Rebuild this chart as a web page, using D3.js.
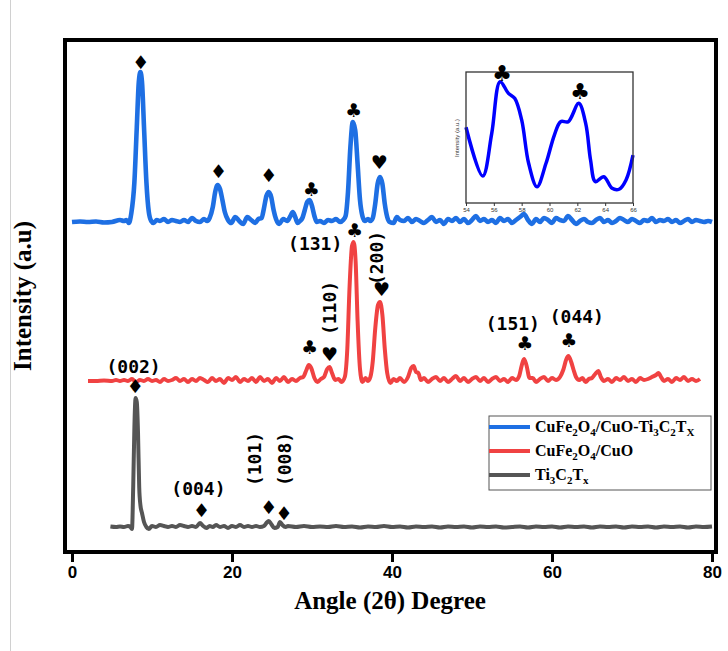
<!DOCTYPE html>
<html><head><meta charset="utf-8">
<script src="https://cdn.jsdelivr.net/npm/d3@7"></script>
<style>
html,body{margin:0;padding:0;background:#fff;}
svg{display:block;}
</style></head>
<body><svg id="chart" width="728" height="651"></svg>
<script>
// ---------------- DATA ----------------
const seriesNames = ["CuFe2O4/CuO-Ti3C2Tx", "CuFe2O4/CuO", "Ti3C2Tx"];
const seriesColors = ["#1e6fe3", "#f04242", "#555555"];
const seriesWidths = [4.6, 4, 4];
const seriesOffset = [330, 171, 25]; // vertical stacking offset (a.u.)
const xTicks = [0, 20, 40, 60, 80];

const blueData = [[0,0],[1,0.5],[2,0],[3,0.5],[4,-0.5],[5,0],[6,2],[6.5,1],[6.8,2],[7.1,-1],[7.4,8],[7.8,40],[8.1,95],[8.35,140],[8.55,150],[8.75,140],[9.0,95],[9.3,40],[9.6,10],[9.9,1],[10.2,-1],[10.6,2],[11,1],[11.5,3],[12,0],[12.5,2],[13,1],[13.5,0],[14,2],[14.5,0],[15,4],[15.5,1],[16,0],[16.5,3],[16.9,1],[17.2,4],[17.6,15],[17.9,30],[18.2,37],[18.5,33],[18.8,22],[19.1,10],[19.5,2],[19.9,-1],[20.4,5],[20.9,1],[21.4,-2],[21.9,5],[22.4,2],[22.9,-1],[23.3,3],[23.7,4],[24.0,14],[24.3,26],[24.6,30],[24.9,25],[25.2,12],[25.5,3],[25.9,-2],[26.4,3],[26.9,1],[27.3,6],[27.6,10],[27.9,5],[28.2,-1],[28.5,1],[28.8,4],[29.1,12],[29.4,20],[29.7,22],[30.0,16],[30.3,6],[30.6,0],[31,1],[31.5,-1],[32,2],[32.5,1],[33,3],[33.5,0],[33.9,2],[34.2,6],[34.5,30],[34.8,75],[35.1,100],[35.4,92],[35.7,58],[36.0,22],[36.3,6],[36.6,1],[37.0,3],[37.3,1],[37.6,4],[37.9,18],[38.2,38],[38.5,45],[38.8,38],[39.1,18],[39.4,5],[39.7,0],[40.2,-1],[40.6,5],[41,2],[41.5,1],[42,4],[42.5,0],[43,3],[43.5,1],[44,-1],[44.5,2],[45,5],[45.5,0],[46,2],[46.5,-2],[47,3],[47.5,1],[48,4],[48.5,0],[49,3],[49.5,-1],[50,2],[50.5,6],[51,1],[51.5,3],[52,0],[52.5,2],[53,-1],[53.5,4],[54,1],[54.5,3],[55,-1],[55.5,2],[56,5],[56.5,8],[57,2],[57.5,-2],[58,3],[58.5,0],[59,4],[59.5,2],[60,-1],[60.5,4],[61,2],[61.5,1],[62,6],[62.5,2],[63,-2],[63.5,1],[64,3],[64.5,0],[65,-1],[65.5,2],[66,4],[66.5,0],[67,2],[67.5,-1],[68,1],[68.5,4],[69,2],[69.5,0],[70,3],[70.5,1],[71,-1],[71.5,2],[72,1],[72.5,4],[73,0],[73.5,2],[74,1],[74.5,3],[75,0],[75.5,2],[76,-1],[76.5,1],[77,3],[77.5,0],[78,2],[78.5,1],[79,0],[79.5,1],[80,0]];

const redData = [[2,0],[3,0],[4,0.5],[5,0],[5.5,1],[6,0],[6.5,1],[7,0],[7.5,2],[8,-1],[8.5,1],[9,0],[9.5,2],[10,0],[10.5,1],[11,-1],[11.5,2],[12,0],[12.5,1],[13,3],[13.5,0],[14,2],[14.5,-1],[15,2],[15.5,0],[16,3],[16.5,1],[17,-1],[17.5,3],[18,0],[18.5,2],[19,-2],[19.5,3],[20,1],[20.5,4],[21,-1],[21.5,2],[22,0],[22.5,3],[23,-1],[23.5,4],[24,0],[24.5,2],[25,-2],[25.5,3],[26,0],[26.5,4],[27,-1],[27.5,2],[28,0],[28.5,3],[28.9,4],[29.3,11],[29.6,16],[29.9,13],[30.3,3],[30.7,-1],[31.1,2],[31.5,4],[31.9,12],[32.2,14],[32.5,8],[32.9,1],[33.3,2],[33.7,-1],[34.1,4],[34.4,30],[34.7,95],[35.0,135],[35.2,139],[35.45,120],[35.7,60],[36.0,12],[36.3,-1],[36.7,3],[37,0],[37.3,4],[37.6,20],[37.9,52],[38.25,76],[38.5,79],[38.8,66],[39.1,32],[39.4,8],[39.8,-2],[40.2,2],[40.6,0],[41,3],[41.5,-1],[42,4],[42.4,13],[42.7,15],[43.0,9],[43.3,8],[43.6,1],[44,3],[44.5,-1],[45,2],[45.5,4],[46,0],[46.5,3],[47,-1],[47.5,2],[48,5],[48.5,0],[49,3],[49.5,-1],[50,2],[50.5,4],[51,0],[51.5,3],[52,-1],[52.5,2],[53,4],[53.5,0],[54,2],[54.5,-1],[55,3],[55.5,1],[55.9,5],[56.2,15],[56.5,22],[56.8,16],[57.2,3],[57.6,3],[58,-1],[58.5,2],[59,4],[59.5,0],[60,3],[60.5,1],[61,4],[61.4,11],[61.8,22],[62.05,25],[62.4,19],[62.7,11],[63,4],[63.4,1],[63.8,3],[64.2,-1],[64.6,2],[65,3],[65.4,7],[65.8,10],[66.1,4],[66.5,0],[67,2],[67.5,-1],[68,3],[68.5,1],[69,4],[69.5,0],[70,2],[70.5,-1],[71,3],[71.5,1],[72,2],[72.5,4],[73,6],[73.3,8],[73.7,3],[74,0],[74.5,2],[75,-1],[75.5,3],[76,1],[76.5,4],[77,0],[77.5,2],[78,0],[78.5,2]];

const grayData = [[4.8,0.5],[5.5,0],[6,0.5],[6.5,0],[7,1],[7.3,0],[7.5,-2],[7.65,40],[7.8,100],[7.95,129],[8.1,125],[8.25,95],[8.4,40],[8.55,22],[8.75,14],[9.0,5],[9.3,0],[9.6,-2],[10,1],[10.5,0],[11,2],[11.5,1],[12,0],[12.5,1],[13,0],[13.5,2],[14,1],[14.5,0],[15,1],[15.5,0],[16,4],[16.4,1],[16.8,-1],[17.2,1],[17.6,0],[18,2],[18.5,0],[19,1],[19.5,-1],[20,1],[20.5,0],[21,2],[21.5,0],[22,1],[22.5,0],[23,1],[23.5,0],[24,1],[24.3,4],[24.6,6],[24.9,3],[25.3,-1],[25.7,0],[26.0,5],[26.3,2],[26.7,0],[27,1],[28,0],[29,1],[30,0],[31,0.5],[32,0],[33,1],[34,0],[35,0.5],[36,-0.5],[37,0.5],[38,0],[39,1],[40,0],[41,0.5],[42,-0.5],[43,0.5],[44,0],[45,0.5],[46,-0.5],[47,0.5],[48,0],[49,0.5],[50,-0.5],[51,0.5],[52,0],[53,0.5],[54,-0.5],[55,0],[56,0.5],[57,-0.5],[58,0.5],[59,0],[60,0.5],[61,-0.5],[62,0.5],[63,0],[64,0.5],[65,-0.5],[66,0.5],[67,0],[68,0.5],[69,-0.5],[70,0.5],[71,0],[72,0.5],[73,-0.5],[74,0.5],[75,0],[76,0.5],[77,-0.5],[78,0.5],[79,0],[80,0.5]];

// phase symbols: [symbol, angle, stacked intensity]
const symbolMarks = [
  ["\u2666", 8.6, 490], ["\u2666", 18.3, 381], ["\u2666", 24.6, 377], ["\u2663", 29.9, 363], ["\u2663", 35.2, 442], ["\u2665", 38.4, 390],
  ["\u2663", 29.7, 205], ["\u2665", 32.2, 198], ["\u2663", 35.3, 322], ["\u2665", 38.7, 263], ["\u2663", 56.6, 209], ["\u2663", 62.1, 212],
  ["\u2666", 7.9, 166], ["\u2666", 16.2, 42], ["\u2666", 24.6, 45], ["\u2666", 26.5, 39]
];
// hkl labels: [text, angle, stacked intensity, rotated]
const hklLabels = [
  ["(131)", 30.4, 309, false], ["(110)", 32.2, 244, true], ["(200)", 38.1, 294, true],
  ["(002)", 7.7, 186, false], ["(151)", 55.1, 229, false], ["(044)", 63.1, 236, false],
  ["(004)", 15.8, 64, false], ["(101)", 22.8, 93, true], ["(008)", 26.6, 93, true]
];

// inset data (54–66 degree zoom of CuFe2O4/CuO-Ti3C2Tx)
const insetTicks = [54, 56, 58, 60, 62, 64, 66];
const insetData = [[54.0,57.8],[55.2,20.6],[55.85,53.2],[56.45,92.6],[57.05,83.7],[57.5,79.9],[58.0,63.4],[58.5,30.3],[59.1,12.4],[59.75,30.3],[60.35,51.9],[60.8,62.1],[61.35,62.1],[62.1,76.1],[62.6,60.8],[62.95,32.8],[63.3,16.3],[63.9,20.1],[64.5,11.2],[65.0,10.5],[65.5,17.6],[66.0,36.6]];
const insetSymbols = [["\u2663", 56.6, 99], ["\u2663", 62.2, 85]];

// ---------------- DRAW ----------------
const svg = d3.select("#chart");
const x = d3.scaleLinear().domain([0, 80]).range([72, 712]);
const y = d3.scaleLinear().domain([0, 512]).range([552, 40]);

// outer faint figure edge
svg.append("line").attr("x1", 10.5).attr("x2", 10.5).attr("y1", 0).attr("y2", 651)
  .attr("stroke", "#d0d0d0").attr("stroke-width", 1);

const series = [blueData, redData, grayData];
const line = d3.line().curve(d3.curveMonotoneX);
series.forEach((d, i) => {
  svg.append("path")
    .attr("d", line(d.map(p => [x(p[0]), y(p[1] + seriesOffset[i])])))
    .attr("fill", "none").attr("stroke", seriesColors[i])
    .attr("stroke-width", seriesWidths[i]).attr("stroke-linejoin", "round");
});

// frame
svg.append("rect").attr("x", 65).attr("y", 40).attr("width", 651).attr("height", 512)
  .attr("fill", "none").attr("stroke", "#000").attr("stroke-width", 4);

// x axis
const xAxis = d3.axisBottom(x).tickValues(xTicks).tickSize(8).tickPadding(4).tickFormat(d3.format("d"));
const gx = svg.append("g").attr("transform", "translate(0,554)").call(xAxis);
gx.select(".domain").remove();
gx.selectAll(".tick line").attr("stroke", "#000").attr("stroke-width", 3);
gx.selectAll(".tick text").attr("font-family", "'Liberation Sans', Arial, sans-serif")
  .attr("font-weight", "bold").attr("font-size", 17).attr("fill", "#000");

svg.append("text").attr("x", 390).attr("y", 609).attr("text-anchor", "middle")
  .attr("font-family", "'Liberation Serif', 'Times New Roman', serif").attr("font-weight", "bold")
  .attr("font-size", 25).text("Angle (2\u03B8) Degree");
svg.append("text").attr("transform", "translate(31,296) rotate(-90)").attr("text-anchor", "middle")
  .attr("font-family", "'Liberation Serif', 'Times New Roman', serif").attr("font-weight", "bold")
  .attr("font-size", 25).text("Intensity (a.u)");

// symbols
svg.selectAll("text.sym").data(symbolMarks).join("text").attr("class", "sym")
  .attr("x", d => x(d[1])).attr("y", d => y(d[2]))
  .attr("text-anchor", "middle").attr("dominant-baseline", "central")
  .attr("font-family", "'DejaVu Sans', sans-serif").attr("font-size", 19).attr("fill", "#000")
  .text(d => d[0]);

// hkl labels
svg.selectAll("text.hkl").data(hklLabels).join("text").attr("class", "hkl")
  .attr("transform", d => `translate(${x(d[1])},${y(d[2])})` + (d[3] ? " rotate(-90)" : ""))
  .attr("text-anchor", "middle").attr("dominant-baseline", "central")
  .attr("font-family", "'DejaVu Sans Mono', monospace").attr("font-weight", "bold")
  .attr("font-size", 18).attr("fill", "#000")
  .text(d => d[0]);

// legend
const lg = svg.append("g");
lg.append("rect").attr("x", 489).attr("y", 416).attr("width", 222).attr("height", 74)
  .attr("fill", "#fff").attr("stroke", "#555").attr("stroke-width", 1);
const legendLabels = [
  [["CuFe", ""], ["2", "sub"], ["O", ""], ["4", "sub"], ["/CuO-Ti", ""], ["3", "sub"], ["C", ""], ["2", "sub"], ["T", ""], ["X", "sub"]],
  [["CuFe", ""], ["2", "sub"], ["O", ""], ["4", "sub"], ["/CuO", ""]],
  [["Ti", ""], ["3", "sub"], ["C", ""], ["2", "sub"], ["T", ""], ["x", "sub"]]
];
legendLabels.forEach((parts, i) => {
  const ly = 427 + i * 24;
  lg.append("line").attr("x1", 489).attr("x2", 530).attr("y1", ly).attr("y2", ly)
    .attr("stroke", seriesColors[i]).attr("stroke-width", 4);
  const t = lg.append("text").attr("x", 535).attr("y", ly + 5)
    .attr("font-family", "'Liberation Serif', 'Times New Roman', serif").attr("font-weight", "bold")
    .attr("font-size", 16).attr("fill", "#000");
  parts.forEach((p, k) => {
    const ts = t.append("tspan").text(p[0]);
    if (p[1] === "sub") ts.attr("font-size", 11).attr("dy", 4);
    else if (k > 0 && parts[k - 1][1] === "sub") ts.attr("dy", -4);
  });
});

// inset
const ix = d3.scaleLinear().domain([54, 66]).range([466, 633]);
const iy = d3.scaleLinear().domain([0, 100]).range([203, 72]);
const ig = svg.append("g");
ig.append("path").attr("d", d3.line().curve(d3.curveCatmullRom)(insetData.map(p => [ix(p[0]), iy(p[1])])))
  .attr("fill", "none").attr("stroke", "#0000ff").attr("stroke-width", 3.5);
ig.append("rect").attr("x", 466).attr("y", 72).attr("width", 167).attr("height", 131)
  .attr("fill", "none").attr("stroke", "#333").attr("stroke-width", 1.3);
const iax = ig.append("g").attr("transform", "translate(0,203)")
  .call(d3.axisBottom(ix).tickValues(insetTicks).tickSize(3).tickPadding(2));
iax.select(".domain").remove();
iax.selectAll(".tick line").attr("stroke", "#333");
iax.selectAll(".tick text").attr("font-size", 6).attr("font-family", "'Liberation Sans', Arial, sans-serif").attr("fill", "#333");
ig.append("text").attr("transform", "translate(459,138) rotate(-90)").attr("text-anchor", "middle")
  .attr("font-size", 6).attr("font-family", "'Liberation Sans', Arial, sans-serif").attr("fill", "#333")
  .text("Intensity (a.u.)");
ig.selectAll("text.isym").data(insetSymbols).join("text").attr("class", "isym")
  .attr("x", d => ix(d[1])).attr("y", d => iy(d[2]))
  .attr("text-anchor", "middle").attr("dominant-baseline", "central")
  .attr("font-family", "'DejaVu Sans', sans-serif").attr("font-size", 22).attr("fill", "#000")
  .text(d => d[0]);
</script></body></html>
